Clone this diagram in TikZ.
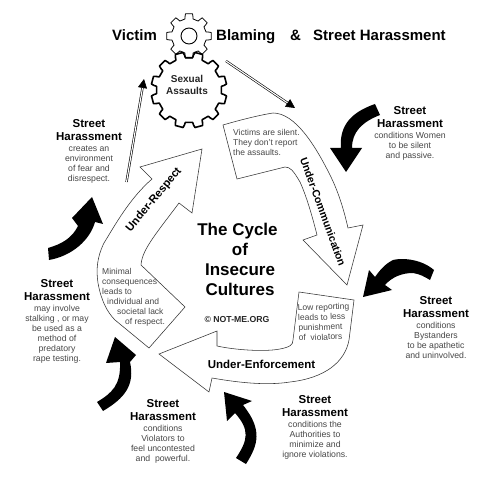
\documentclass[tikz,border=0pt]{standalone}
\usepackage{fontspec}
\setmainfont{Liberation Sans}
\usetikzlibrary{arrows.meta}
\newcommand{\hdtxt}[1]{{\fontsize{11.5}{13}\selectfont\bfseries\color{black}#1}}
\newcommand{\gearshape}[7]{% cx cy router rinner teeth linewidth rotation
  \begin{scope}[shift={(#1,#2)},rotate=#7]
    \pgfmathsetmacro{\stepang}{360/#5}
    \draw[line width=#6, black, line join=round]
      (-0.30*\stepang:#4pt)
      \foreach \k [evaluate=\k as \ang using (\k-1)*\stepang] in {1,...,#5}{
        .. controls (\ang-0.25*\stepang:#4pt+0.4pt) and (\ang-0.27*\stepang:#3pt-1pt) .. (\ang-0.2*\stepang:#3pt)
        -- (\ang+0.2*\stepang:#3pt)
        .. controls (\ang+0.27*\stepang:#3pt-1pt) and (\ang+0.25*\stepang:#4pt+0.4pt) .. (\ang+0.30*\stepang:#4pt)
        -- (\ang+0.70*\stepang:#4pt)
      } -- cycle;
  \end{scope}}
\tikzset{
  blockarrow/.style={draw=black!80, line width=0.55pt, fill=white, line join=miter},
  blackarrow/.style={fill=black, draw=none},
  shblock/.style={align=center, inner sep=0pt, anchor=north, text=black!72, font=\fontsize{8.7}{10}\selectfont},
  steptitle/.style={font=\fontsize{11.2}{13}\selectfont\bfseries, inner sep=0pt},
  boxtext/.style={align=left, inner sep=0pt, text=black!72, font=\fontsize{8.5}{10}\selectfont},
  headline/.style={font=\fontsize{15}{18}\selectfont\bfseries, inner sep=0pt, anchor=base west},
  doublearrow/.style={double=white, double distance=1.1pt, line width=0.6pt, black, -{Triangle[length=9pt,width=9pt,fill=black]}}
}
\begin{document}
\begin{tikzpicture}[x=1pt,y=-1pt]
\useasboundingbox (0,0) rectangle (490,481);
\fill[white] (0,0) rectangle (490,481);

% title
\node[headline] (t1) at (112,41) {Victim};
\node[headline] (t2) at (216,41) {Blaming};
\node[headline] (t3) at (290,41) {\&};
\node[headline] (t4) at (313,41) {Street Harassment};

% gears
\gearshape{189}{36}{22.5}{17.5}{8}{0.8pt}{0}
\draw[line width=0.9pt] (189,36) circle (8pt);
\gearshape{189}{90}{38}{32.5}{12}{1.6pt}{15}
\node[align=center, inner sep=0pt, font=\fontsize{10}{12}\selectfont\bfseries, text=black!85] (sa) at (187,85) {Sexual\\Assaults};

% double-line arrows
\coordinate (d1a) at (126.5,182);
\coordinate (d1b) at (144,79);
\coordinate (d2a) at (226,61);
\coordinate (d2b) at (295,108);
\draw[doublearrow] (d1a) -- (d1b);
\draw[doublearrow] (d2a) -- (d2b);

% block arrow: Under-Communication
\draw[blockarrow] (223,125) .. controls (240,120) and (260,115) .. (273,113)
  .. controls (295,113) and (315,145) .. (330,175)
  .. controls (340,195) and (345,215) .. (348,228)
  -- (363,225) -- (347,285) -- (303,240) -- (317,235)
  .. controls (312,215) and (306,195) .. (300,182)
  .. controls (293,170) and (290,167) .. (285,167)
  -- (237,179) -- cycle;

% block arrow: Under-Enforcement
\draw[blockarrow] (299,292) -- (354,300) -- (349,340)
  .. controls (345,362) and (325,378) .. (290,382)
  .. controls (265,386) and (235,382) .. (212,378)
  -- (209,392) -- (159,354) -- (217,331) -- (217,346)
  .. controls (235,350) and (265,352) .. (280,349)
  .. controls (290,347) and (293,345) .. (293,340)
  -- cycle;

% block arrow: Under-Respect
\draw[blockarrow] (202,149) -- (140,167) -- (152,179)
  .. controls (130,198) and (115,225) .. (104,243)
  .. controls (97,257) and (96,270) .. (98,283)
  .. controls (101,300) and (107,312) .. (115,320)
  -- (149,348) -- (185,307) -- (141,265)
  .. controls (142,250) and (155,235) .. (179,203)
  -- (192,213) -- cycle;

% black arrows
\fill[blackarrow] (375,104) .. controls (352,112) and (339,125) .. (341,148)
  -- (330,148) -- (346,172) -- (362,148) -- (352,148)
  .. controls (352,132) and (362,122) .. (380,115) -- cycle;
\fill[blackarrow] (434,270) .. controls (420,258) and (400,258) .. (393,260)
  .. controls (385,264) and (380,270) .. (375,277)
  -- (369,270) -- (363,297) -- (392,290) -- (385,285)
  .. controls (392,277) and (402,273) .. (413,273)
  .. controls (420,274) and (425,277) .. (430,280) -- cycle;
\fill[blackarrow] (48,248) .. controls (62,244) and (72,238) .. (78,226)
  -- (72,218) -- (92,197) -- (103,224) -- (95,222)
  .. controls (90,240) and (72,256) .. (49,260) -- cycle;
\fill[blackarrow] (97,402) .. controls (112,393) and (121,385) .. (120,362)
  -- (106,363) -- (115,337) -- (136,355) -- (130,362)
  .. controls (135,385) and (125,398) .. (103,411) -- cycle;
\fill[blackarrow] (246,464) .. controls (258,445) and (263,430) .. (243,405)
  -- (252,401) -- (224,392) -- (227,421) -- (235,413)
  .. controls (250,430) and (248,440) .. (236,458) -- cycle;

% centre text
\node[align=center, inner sep=0pt, font=\fontsize{17}{20}\selectfont\bfseries] (ctitle) at (240,259) {\hspace*{-5pt}The Cycle\\of\\Insecure\\Cultures};
\node[inner sep=0pt, font=\fontsize{8.7}{10}\selectfont\bfseries, text=black!85] (cr) at (237,319.5) {© NOT-ME.ORG};

% block arrow labels
\node[steptitle, rotate=-70, font=\fontsize{10.6}{13}\selectfont\bfseries] (ucl) at (323,212) {Under-Communication};
\node[steptitle, rotate=50] (url) at (154,200) {Under-Respect};
\node[steptitle, font=\fontsize{11.5}{13}\selectfont\bfseries] (uel) at (261.5,364) {Under-Enforcement};

\node[boxtext, anchor=north west] (uct) at (233,129.5) {Victims are silent.\\They don’t report\\the assaults.};
\node[boxtext, rotate=2, anchor=center] (uet) at (324,322) {Low reporting\\leads to less\\punishment\\of\ \ violators};
\node[boxtext, anchor=north west] (urt) at (102,268.5) {Minimal\\consequences\\leads to\\\hspace*{5pt}individual and\\\hspace*{15pt}societal lack\\\hspace*{23pt}of respect.};

% street harassment blocks
\node[shblock] (s1) at (410,106) {\hdtxt{Street}\\[3pt]\hdtxt{Harassment}\\[1.5pt]conditions Women\\to be silent\\and passive.};
\node[shblock] (s2) at (436,296) {\hdtxt{Street}\\[3pt]\hdtxt{Harassment}\\[1.5pt]conditions\\Bystanders\\to be apathetic\\and uninvolved.};
\node[shblock] (s3) at (315,395) {\hdtxt{Street}\\[3pt]\hdtxt{Harassment}\\[1.5pt]conditions the\\Authorities to\\minimize and\\ignore violations.};
\node[shblock] (s4) at (163,399) {\hdtxt{Street}\\[3pt]\hdtxt{Harassment}\\[1.5pt]conditions\\Violators to\\feel uncontested\\and\ \ powerful.};
\node[shblock] (s5) at (57,279) {\hdtxt{Street}\\[3pt]\hdtxt{Harassment}\\[1.5pt]may involve\\stalking , or may\\be used as a\\method of\\predatory\\rape testing.};
\node[shblock] (s6) at (89,119) {\hdtxt{Street}\\[3pt]\hdtxt{Harassment}\\[1.5pt]creates an\\environment\\of fear and\\disrespect.};
\end{tikzpicture}
\end{document}
